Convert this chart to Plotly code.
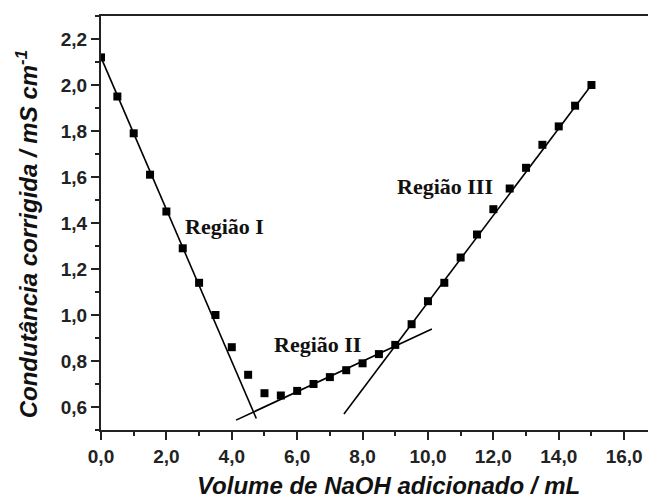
import plotly.graph_objects as go

# Titration data: NaOH volume (mL) vs corrected conductance (mS/cm)
volume = [0.0, 0.5, 1.0, 1.5, 2.0, 2.5, 3.0, 3.5, 4.0, 4.5, 5.0, 5.5, 6.0, 6.5,
          7.0, 7.5, 8.0, 8.5, 9.0, 9.5, 10.0, 10.5, 11.0, 11.5, 12.0, 12.5,
          13.0, 13.5, 14.0, 14.5, 15.0]
conductance = [2.12, 1.95, 1.79, 1.61, 1.45, 1.29, 1.14, 1.00, 0.86, 0.74,
               0.66, 0.65, 0.67, 0.70, 0.73, 0.76, 0.79, 0.83, 0.87, 0.96,
               1.06, 1.14, 1.25, 1.35, 1.46, 1.55, 1.64, 1.74, 1.82, 1.91, 2.00]

# Linear fit segments for the three regions (endpoints)
fit1_x = [0.0, 4.75]
fit1_y = [2.12, 0.55]
fit2_x = [4.13, 10.12]
fit2_y = [0.543, 0.939]
fit3_x = [7.43, 15.0]
fit3_y = [0.57, 2.00]

region_labels = ["Região I", "Região II", "Região III"]
region_x = [3.79, 6.62, 10.52]
region_y = [1.383, 0.87, 1.557]

fig = go.Figure()

for fx, fy in [(fit1_x, fit1_y), (fit2_x, fit2_y), (fit3_x, fit3_y)]:
    fig.add_trace(go.Scatter(x=fx, y=fy, mode="lines",
                             line=dict(color="black", width=1.6),
                             showlegend=False, hoverinfo="skip"))

fig.add_trace(go.Scatter(x=volume, y=conductance, mode="markers",
                         marker=dict(symbol="square", size=8, color="black"),
                         showlegend=False))

for txt, rx, ry in zip(region_labels, region_x, region_y):
    fig.add_annotation(x=rx, y=ry, xref="x", yref="y", text=txt,
                       showarrow=False, xanchor="center", yanchor="middle",
                       font=dict(family="Liberation Serif, Times New Roman, serif",
                                 size=22, color="#111", weight="bold"))

title_font = dict(family="Liberation Sans, Arial, sans-serif", size=24,
                  color="#111", weight="bold", style="italic")

fig.add_annotation(x=0.5265, y=-0.135, xref="paper", yref="paper",
                   text="Volume de NaOH adicionado / mL", showarrow=False,
                   xanchor="center", yanchor="middle", font=title_font)
fig.add_annotation(x=-0.135, y=0.473, xref="paper", yref="paper",
                   text="Condutância corrigida / mS cm<sup>-1</sup>",
                   showarrow=False, textangle=-90,
                   xanchor="center", yanchor="middle", font=title_font)

tick_font = dict(family="Liberation Sans, Arial, sans-serif", size=19,
                 color="#222", weight="bold")

fig.update_xaxes(range=[0, 16.73], dtick=2, tick0=0, tickformat=".1f",
                 showgrid=False, zeroline=False,
                 showline=True, linecolor="#222", linewidth=2, mirror=True,
                 ticks="outside", ticklen=8, tickwidth=1.5, tickcolor="#222",
                 tickfont=tick_font,
                 minor=dict(dtick=1, tick0=0, ticks="outside", ticklen=4,
                            tickwidth=1.5, tickcolor="#222"))
fig.update_yaxes(range=[0.5, 2.3], dtick=0.2, tick0=0, tickformat=".1f",
                 showgrid=False, zeroline=False,
                 showline=True, linecolor="#222", linewidth=2, mirror=False,
                 ticks="outside", ticklen=8, tickwidth=1.5, tickcolor="#222",
                 tickfont=tick_font,
                 minor=dict(dtick=0.1, tick0=0, ticks="outside", ticklen=4,
                            tickwidth=1.5, tickcolor="#222"))

fig.update_layout(width=648, height=500,
                  margin=dict(l=101, r=0, t=16, b=70),
                  paper_bgcolor="white", plot_bgcolor="white",
                  separators=",.")

fig.write_html("out.html")
